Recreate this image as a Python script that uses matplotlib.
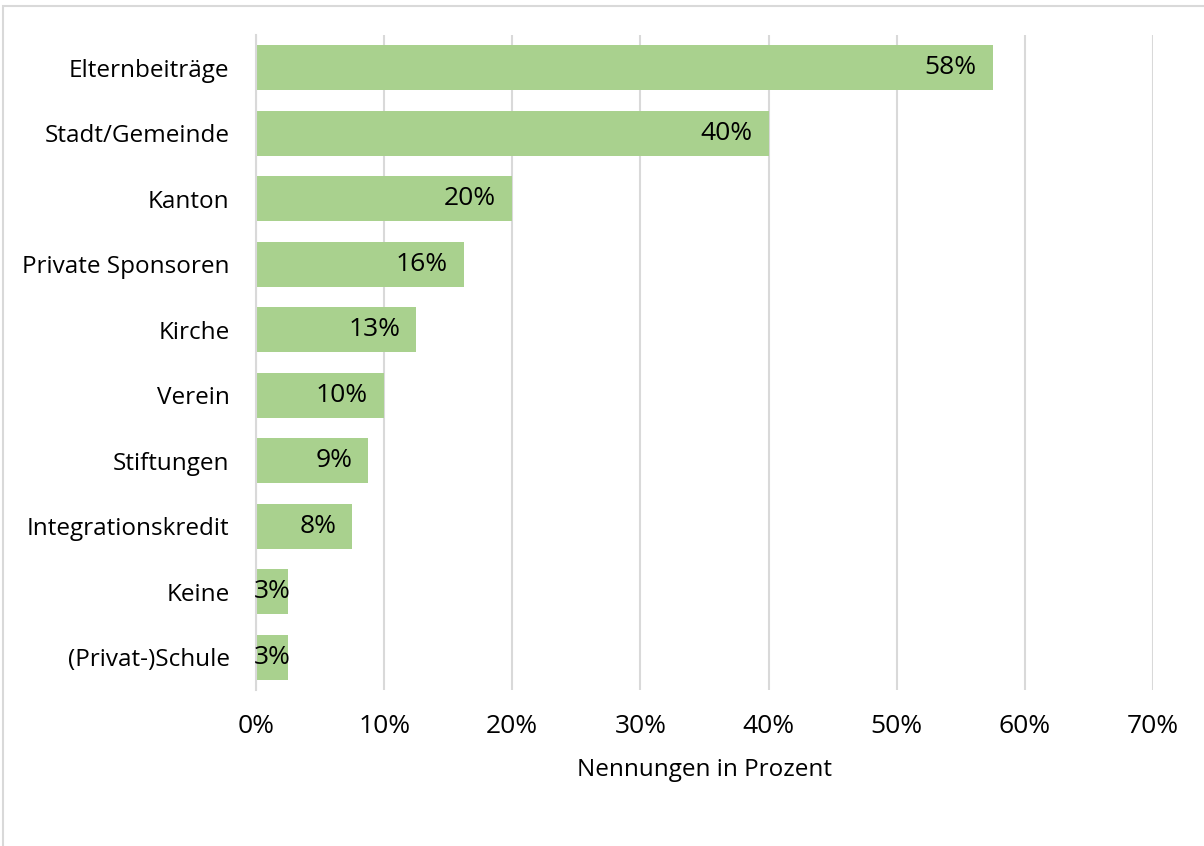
import matplotlib
matplotlib.use("Agg")
import matplotlib.pyplot as plt
from matplotlib.patches import Rectangle

categories = ["Elternbeiträge", "Stadt/Gemeinde", "Kanton", "Private Sponsoren", "Kirche",
              "Verein", "Stiftungen", "Integrationskredit", "Keine", "(Privat-)Schule"]
values = [57.5, 40.0, 20.0, 16.2, 12.5, 10.0, 8.75, 7.5, 2.5, 2.5]
xticks = [0, 10, 20, 30, 40, 50, 60, 70]
xlabel = "Nennungen in Prozent"

FS = 17.5
FSP = 19
plt.rcParams['font.family'] = ['Open Sans', 'DejaVu Sans']
fig = plt.figure(figsize=(12.04, 8.46), dpi=100)
fig.patches.append(Rectangle((3/1204, -0.1), 1.2, 1 - 6/846 + 0.1, transform=fig.transFigure,
                             fill=False, edgecolor='#D9D9D9', linewidth=1.5, zorder=0))
ax = fig.add_axes([256/1204, 1 - 690/846, (1153 - 256)/1204, (690 - 35)/846])

ypos = list(range(len(categories)))
bars = ax.barh(ypos, values, height=0.69, color='#A9D18E', zorder=2)
for y, v in zip(ypos, values):
    label = f"{int(v + 0.5)}%"
    if v < 4:
        # label does not fit inside: keep it starting at the axis
        ax.annotate(label, xy=(0, y), xytext=(-1.5, 0), textcoords='offset points',
                    ha='left', va='center', fontsize=FSP, color='black', zorder=3)
    else:
        ax.annotate(label, xy=(v, y), xytext=(-11.5, 0), textcoords='offset points',
                    ha='right', va='center', fontsize=FSP, color='black', zorder=3)

ax.set_xlim(0, 70)
ax.set_ylim(len(categories) - 0.5, -0.5)
ax.set_yticks(ypos)
ax.set_yticklabels(categories, fontsize=FS)
ax.set_xticks(xticks)
ax.set_xticklabels([f"{t}%" for t in xticks], fontsize=FSP)
ax.tick_params(axis='y', length=0, pad=19)
ax.tick_params(axis='x', length=0, pad=17)
ax.grid(axis='x', color='#D9D9D9', linewidth=1.5, zorder=0)
ax.set_axisbelow(True)
for s in ['top', 'right', 'bottom']:
    ax.spines[s].set_visible(False)
ax.spines['left'].set_color('#D9D9D9')
ax.spines['left'].set_linewidth(1.5)
ax.set_xlabel(xlabel, fontsize=FS, labelpad=14)

fig.savefig("out.png", dpi=100)
